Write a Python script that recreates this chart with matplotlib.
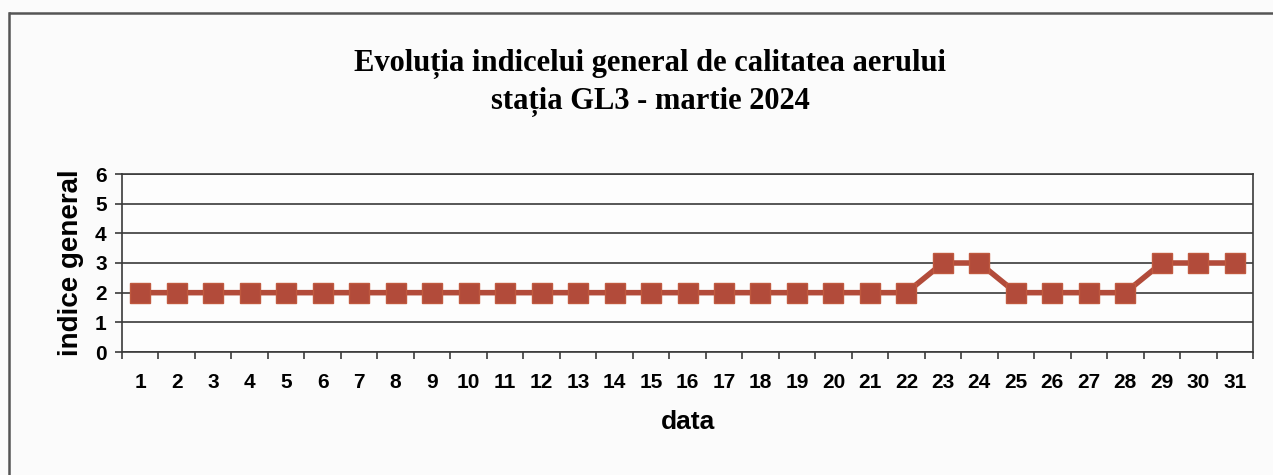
import matplotlib.pyplot as plt
import matplotlib.lines as mlines
import numpy as np

# zilele lunii martie 2024
days = list(range(1, 32))
# indicele general pe zile
index_values = [2, 2, 2, 2, 2, 2, 2, 2, 2, 2,
                2, 2, 2, 2, 2, 2, 2, 2, 2, 2,
                2, 2, 3, 3, 2, 2, 2, 2, 3, 3, 3]
y_ticks = [0, 1, 2, 3, 4, 5, 6]

title_1 = "Evoluția indicelui general de calitatea aerului"
title_2 = "stația GL3 - martie 2024"

line_color = '#B24B3A'
grid_color = '#3a3a3a'

fig = plt.figure(figsize=(12.73, 4.75), dpi=100)
fig.patch.set_facecolor('#fbfbfb')

# chenarul scanat (doar sus si stanga vizibile)
fig.add_artist(mlines.Line2D([10 / 1273, 1.0], [1 - 13 / 475, 1 - 13 / 475],
                             color='#555555', linewidth=1.8, transform=fig.transFigure))
fig.add_artist(mlines.Line2D([9 / 1273, 9 / 1273], [0.0, 1 - 13 / 475],
                             color='#555555', linewidth=1.8, transform=fig.transFigure))

ax = fig.add_axes([122 / 1273, 1 - 352 / 475, (1253 - 122) / 1273, (352 - 174) / 475])
ax.set_facecolor('#fdfdfd')

ax.plot(days, index_values, color=line_color, linewidth=4, marker='s',
        markersize=14.5, markerfacecolor=line_color, markeredgecolor='#C0593F',
        markeredgewidth=1.0, zorder=3)

ax.set_xlim(0.5, 31.5)
ax.set_ylim(0, 6)
ax.set_yticks(y_ticks)
ax.set_xticks(days)
ax.set_xticks(np.arange(0.5, 32, 1), minor=True)
ax.tick_params(axis='x', which='major', length=0, pad=15, labelsize=15)
ax.tick_params(axis='x', which='minor', length=5, width=1.2, direction='out',
               color=grid_color)
ax.tick_params(axis='y', length=5, width=1.2, direction='out', color=grid_color,
               pad=6, labelsize=15)
for lab in ax.get_xticklabels() + ax.get_yticklabels():
    lab.set_fontweight('bold')
    lab.set_family('Liberation Sans')

ax.grid(axis='y', color=grid_color, linewidth=1.2)
ax.set_axisbelow(True)
for side in ['left', 'right', 'bottom', 'top']:
    ax.spines[side].set_color(grid_color)
    ax.spines[side].set_linewidth(1.2)

ax.set_ylabel('indice general', fontsize=20, fontweight='bold',
              family='Liberation Sans', labelpad=8)
ax.set_xlabel('data', fontsize=19, fontweight='bold',
              family='Liberation Sans', labelpad=13)

fig.text(650 / 1273, 1 - 64 / 475, title_1, ha='center', va='center',
         fontsize=22, fontweight='bold', family='Liberation Serif')
fig.text(650 / 1273, 1 - 102 / 475, title_2, ha='center', va='center',
         fontsize=22, fontweight='bold', family='Liberation Serif')

fig.savefig('out.png', dpi=100, facecolor=fig.get_facecolor())
